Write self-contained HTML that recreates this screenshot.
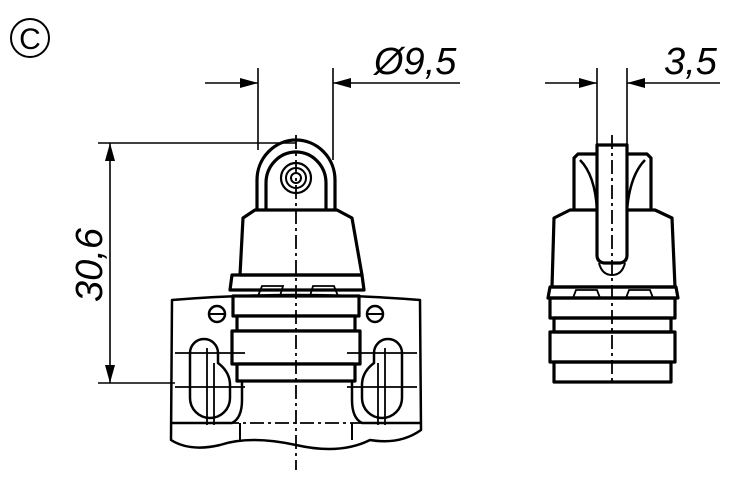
<!DOCTYPE html>
<html><head><meta charset="utf-8"><style>body{margin:0;background:#fff}svg{display:block}</style></head><body>
<svg width="750" height="477" viewBox="0 0 750 477" xmlns="http://www.w3.org/2000/svg" font-family="Liberation Sans, sans-serif">
<circle cx="30" cy="38" r="19" fill="none" stroke="#000" stroke-width="2"/>
<text x="30" y="49" font-size="30" text-anchor="middle">C</text>
<g stroke="#000" stroke-width="1.6" fill="none">
<line x1="258" y1="68" x2="258" y2="150"/><line x1="333" y1="68" x2="333" y2="160"/>
<line x1="205" y1="83" x2="258" y2="83"/>
<line x1="460" y1="83" x2="333" y2="83"/>
<line x1="597" y1="68" x2="597" y2="150"/><line x1="627" y1="68" x2="627" y2="150"/>
<line x1="545" y1="83" x2="597" y2="83"/>
<line x1="720" y1="83" x2="627" y2="83"/>
<line x1="98" y1="143" x2="296" y2="143"/><line x1="98" y1="383" x2="175" y2="383"/>
<line x1="110" y1="143" x2="110" y2="383"/>
</g>
<g fill="#000">
<path d="M258,83 L240,78 L240,88 Z"/><path d="M333,83 L351,78 L351,88 Z"/>
<path d="M597,83 L579,78 L579,88 Z"/><path d="M627,83 L645,78 L645,88 Z"/>
<path d="M110,143 L105,161 L115,161 Z"/><path d="M110,383 L105,365 L115,365 Z"/>
</g>
<text x="374" y="74" font-size="38" font-style="italic">Ø9,5</text>
<text x="664" y="74" font-size="38" font-style="italic">3,5</text>
<text transform="translate(102,302) rotate(-90)" font-size="38" font-style="italic">30,6</text>
<g stroke="#000" stroke-width="3.2" fill="none" stroke-linejoin="round">
<path d="M257,210 L257,180 A39,40 0 0 1 335,180 L335,210"/>
<path d="M266,210 L266,183 A30,31 0 0 1 326,183 L326,210"/>
<circle cx="296" cy="178" r="15" stroke-width="2.2"/><circle cx="296" cy="178" r="10" stroke-width="2"/><circle cx="296" cy="178" r="5" stroke-width="2"/>
<path d="M240,275 L243,218 L255,210 L337,210 L352,218 L362,275 Z"/>
<path d="M230,290 L232,275 L362,275 L364,290 Z"/>
<path d="M172,300 Q296,290 420,300 L421,430 Q400,445 370,440 Q340,455 296,445 Q250,435 220,445 Q190,452 171,440 Z" stroke-width="2.5"/>
<path d="M172,423 L232,423 Q242,418 242,400 L242,380 L352,380 L352,400 Q352,418 362,423 L421,423" stroke-width="2.5"/>
<line x1="240" y1="423" x2="240" y2="440" stroke-width="2"/><line x1="352" y1="423" x2="352" y2="440" stroke-width="2"/>
<rect x="233" y="296" width="126" height="20" fill="#fff"/>
<rect x="237" y="316" width="118" height="15" fill="#fff"/>
<rect x="232" y="331" width="128" height="33" fill="#fff"/>
<rect x="237" y="364" width="118" height="17" fill="#fff"/>
<path d="M190,353 A14,14 0 0 1 218,353 L218,363 Q230,372 230,385 L230,398 A20,20 0 0 1 190,398 Z" stroke-width="2.5"/>
<path d="M402,353 A14,14 0 0 0 374,353 L374,363 Q362,372 362,385 L362,398 A20,20 0 0 0 402,398 Z" stroke-width="2.5"/>
<circle cx="217" cy="314" r="8" stroke-width="2.5"/><circle cx="375" cy="314" r="8" stroke-width="2.5"/>
<line x1="209" y1="314" x2="225" y2="314" stroke-width="2"/><line x1="367" y1="314" x2="383" y2="314" stroke-width="2"/>
</g>
<g stroke="#000" stroke-width="1.8" fill="none">
<path d="M258,296 L262,286 L283,286 L280,296 M310,296 L313,286 L334,286 L338,296"/>
<line x1="207" y1="348" x2="207" y2="425"/><line x1="214" y1="363" x2="214" y2="425"/>
<line x1="385" y1="348" x2="385" y2="425"/><line x1="378" y1="363" x2="378" y2="425"/>
<line x1="175" y1="353" x2="245" y2="353"/><line x1="175" y1="387" x2="245" y2="387"/>
<line x1="347" y1="353" x2="417" y2="353"/><line x1="347" y1="387" x2="417" y2="387"/>
<line x1="296" y1="135" x2="296" y2="470" stroke-dasharray="14,4,3,4"/>
<line x1="175" y1="423" x2="420" y2="423" stroke-dasharray="14,4,3,4"/>
</g>
<g stroke="#000" stroke-width="3.2" fill="none" stroke-linejoin="round">
<path d="M574,210 L574,158 L578,154 L647,154 L651,158 L651,210"/>
<path d="M580,160 Q595,175 597,210 M645,160 Q630,175 627,210" stroke-width="2.5"/>
<path d="M552,287 L554,218 L570,210 L655,210 L672,218 L675,287 Z"/>
<path d="M548,298 L550,287 L676,287 L678,298 Z"/>
<rect x="550" y="298" width="125" height="20"/>
<rect x="554" y="318" width="117" height="14"/>
<rect x="550" y="332" width="125" height="30"/>
<rect x="554" y="362" width="117" height="20"/>
<path d="M597,145 L597,255 Q597,262 604,263 L620,263 Q627,262 627,255 L627,145 Z" fill="#fff"/>
<path d="M599,263 Q602,275 612,275 Q622,275 625,263" stroke-width="2"/>
</g>
<g stroke="#000" stroke-width="1.8" fill="none">
<path d="M573,298 L576,290 L597,290 L600,298 M626,298 L629,290 L650,290 L653,298"/>
<line x1="612" y1="135" x2="612" y2="385" stroke-dasharray="14,4,3,4"/>
</g>
</svg>
</body></html>
